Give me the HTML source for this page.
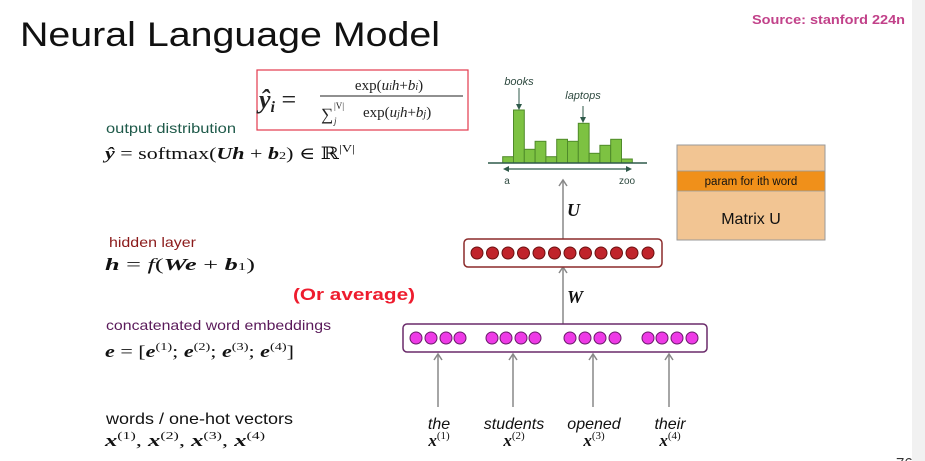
<!DOCTYPE html>
<html><head><meta charset="utf-8"><style>
html,body{margin:0;padding:0;background:#fff;}
svg{display:block}
.m{font-family:"Liberation Serif","DejaVu Serif",serif;}
.s{font-family:"Liberation Sans","DejaVu Sans",sans-serif;}
</style></head><body>
<svg width="925" height="461" viewBox="0 0 925 461" xmlns="http://www.w3.org/2000/svg">
<rect x="0" y="0" width="925" height="461" fill="#fff"/>
<rect x="912" y="0" width="13" height="461" fill="#f1f1f1"/>
<text x="20" y="46" class="s" font-size="34" fill="#111" textLength="420" lengthAdjust="spacingAndGlyphs">Neural Language Model</text>
<text x="752" y="24" class="s" font-size="13" font-weight="bold" fill="#c2428a" textLength="153" lengthAdjust="spacingAndGlyphs">Source: stanford 224n</text>
<text x="896" y="468" class="s" font-size="15" fill="#333">76</text>

<!-- formula box -->
<rect x="257" y="70" width="211" height="60" fill="#fff" stroke="#e23a4e" stroke-width="1.2"/>
<text x="259" y="108" class="m" font-size="26" font-style="italic" font-weight="bold" fill="#222">ŷ<tspan font-size="16" dy="4">i</tspan><tspan dy="-4" font-weight="normal" font-style="normal"> =</tspan></text>
<text x="389" y="90" class="m" font-size="15" text-anchor="middle" fill="#222">exp(<tspan font-style="italic">u<tspan font-size="10">i</tspan>h</tspan>+<tspan font-style="italic">b<tspan font-size="10">i</tspan></tspan>)</text>
<line x1="320" y1="96" x2="463" y2="96" stroke="#222" stroke-width="1"/>
<text x="321" y="120" class="m" font-size="17" fill="#222">∑</text>
<text x="334" y="109" class="m" font-size="9" fill="#222">|V|</text>
<text x="334" y="124" class="m" font-size="9" font-style="italic" fill="#222">j</text>
<text x="363" y="117" class="m" font-size="15" fill="#222">exp(<tspan font-style="italic">u<tspan font-size="10">j</tspan>h</tspan>+<tspan font-style="italic">b<tspan font-size="10">j</tspan></tspan>)</text>

<!-- left labels -->
<text x="106" y="133" class="s" font-size="14" fill="#1f5a4a" textLength="130" lengthAdjust="spacingAndGlyphs">output distribution</text>
<text x="105" y="159" class="m" font-size="17" fill="#111" textLength="250" lengthAdjust="spacingAndGlyphs"><tspan font-weight="bold" font-style="italic">ŷ</tspan> = softmax(<tspan font-weight="bold" font-style="italic">Uh</tspan> + <tspan font-weight="bold" font-style="italic">b</tspan><tspan font-size="11">2</tspan>) ∈ ℝ<tspan font-size="11" dy="-7">|V|</tspan></text>
<text x="109" y="247" class="s" font-size="14" fill="#8b1a1a" textLength="87" lengthAdjust="spacingAndGlyphs">hidden layer</text>
<text x="105" y="270" class="m" font-size="17" fill="#111" textLength="150" lengthAdjust="spacingAndGlyphs"><tspan font-weight="bold" font-style="italic">h</tspan> = <tspan font-style="italic">f</tspan>(<tspan font-weight="bold" font-style="italic">We</tspan> + <tspan font-weight="bold" font-style="italic">b</tspan><tspan font-size="11">1</tspan>)</text>
<text x="293" y="300" class="s" font-size="17" font-weight="bold" fill="#ee1c2e" textLength="122" lengthAdjust="spacingAndGlyphs">(Or average)</text>
<text x="106" y="330" class="s" font-size="14" fill="#5a1a5a" textLength="225" lengthAdjust="spacingAndGlyphs">concatenated word embeddings</text>
<text x="105" y="357" class="m" font-size="17" fill="#111" textLength="189" lengthAdjust="spacingAndGlyphs"><tspan font-weight="bold" font-style="italic">e</tspan> = [<tspan font-weight="bold" font-style="italic">e</tspan><tspan font-size="11" dy="-7">(1)</tspan><tspan dy="7">; </tspan><tspan font-weight="bold" font-style="italic">e</tspan><tspan font-size="11" dy="-7">(2)</tspan><tspan dy="7">; </tspan><tspan font-weight="bold" font-style="italic">e</tspan><tspan font-size="11" dy="-7">(3)</tspan><tspan dy="7">; </tspan><tspan font-weight="bold" font-style="italic">e</tspan><tspan font-size="11" dy="-7">(4)</tspan><tspan dy="7">]</tspan></text>
<text x="106" y="424" class="s" font-size="16" fill="#111" textLength="187" lengthAdjust="spacingAndGlyphs">words / one-hot vectors</text>
<text x="105" y="446" class="m" font-size="17" fill="#111" textLength="160" lengthAdjust="spacingAndGlyphs"><tspan font-weight="bold" font-style="italic">x</tspan><tspan font-size="11" dy="-7">(1)</tspan><tspan dy="7">, </tspan><tspan font-weight="bold" font-style="italic">x</tspan><tspan font-size="11" dy="-7">(2)</tspan><tspan dy="7">, </tspan><tspan font-weight="bold" font-style="italic">x</tspan><tspan font-size="11" dy="-7">(3)</tspan><tspan dy="7">, </tspan><tspan font-weight="bold" font-style="italic">x</tspan><tspan font-size="11" dy="-7">(4)</tspan></text>

<!-- histogram -->
<g fill="#7dc242" stroke="#4f8a2a" stroke-width="1">
<rect x="502.7" y="156.7" width="10.8" height="6.3"/>
<rect x="513.5" y="110" width="10.8" height="53"/>
<rect x="524.3" y="149.3" width="10.8" height="13.7"/>
<rect x="535.1" y="141.3" width="10.8" height="21.7"/>
<rect x="545.9" y="156.7" width="10.8" height="6.3"/>
<rect x="556.7" y="139.3" width="10.8" height="23.7"/>
<rect x="567.5" y="141.3" width="10.8" height="21.7"/>
<rect x="578.3" y="123.3" width="10.8" height="39.7"/>
<rect x="589.1" y="153.3" width="10.8" height="9.7"/>
<rect x="599.9" y="145.3" width="10.8" height="17.7"/>
<rect x="610.7" y="139.3" width="10.8" height="23.7"/>
<rect x="621.5" y="159" width="10.8" height="4"/>
</g>
<line x1="488" y1="163" x2="647" y2="163" stroke="#2f5a4a" stroke-width="1.5"/>
<line x1="505" y1="169" x2="630" y2="169" stroke="#2f5a4a" stroke-width="1.3"/>
<path d="M509,166 L503,169 L509,172Z M626,166 L632,169 L626,172Z" fill="#2f5a4a"/>
<text x="507" y="184" class="s" font-size="10" fill="#2f4a40" text-anchor="middle">a</text>
<text x="627" y="184" class="s" font-size="10" fill="#2f4a40" text-anchor="middle">zoo</text>
<text x="519" y="85" class="s" font-size="11" font-style="italic" fill="#2f4a40" text-anchor="middle">books</text>
<text x="583" y="99" class="s" font-size="11" font-style="italic" fill="#2f4a40" text-anchor="middle">laptops</text>
<line x1="519" y1="88" x2="519" y2="108" stroke="#2f5a4a"/>
<path d="M516,104 L519,110 L522,104Z" fill="#2f5a4a"/>
<line x1="583" y1="106" x2="583" y2="121" stroke="#2f5a4a"/>
<path d="M580,117 L583,123 L586,117Z" fill="#2f5a4a"/>

<!-- Matrix U -->
<rect x="677" y="145" width="148" height="95" fill="#f2c593" stroke="#999" stroke-width="1"/>
<rect x="677" y="171" width="148" height="20" fill="#f0901a" stroke="#999" stroke-width="0.8"/>
<text x="751" y="185" class="s" font-size="11.5" fill="#111" text-anchor="middle">param for ith word</text>
<text x="751" y="224" class="s" font-size="16" fill="#111" text-anchor="middle">Matrix U</text>

<!-- arrows -->
<g stroke="#888" stroke-width="1.5" fill="none">
<line x1="563" y1="239" x2="563" y2="181"/><path d="M559,186 L563,180 L567,186"/>
<line x1="563" y1="324" x2="563" y2="268"/><path d="M559,273 L563,267 L567,273"/>
<line x1="438" y1="407" x2="438" y2="355"/><path d="M434,360 L438,354 L442,360"/>
<line x1="513" y1="407" x2="513" y2="355"/><path d="M509,360 L513,354 L517,360"/>
<line x1="593" y1="407" x2="593" y2="355"/><path d="M589,360 L593,354 L597,360"/>
<line x1="669" y1="407" x2="669" y2="355"/><path d="M665,360 L669,354 L673,360"/>
</g>
<text x="567" y="216" class="m" font-size="18" font-weight="bold" font-style="italic" fill="#111">U</text>
<text x="567" y="303" class="m" font-size="18" font-weight="bold" font-style="italic" fill="#111">W</text>

<!-- hidden -->
<rect x="464" y="239" width="198" height="28" rx="4" fill="#fff" stroke="#8b2a2a" stroke-width="1.5"/>
<g fill="#c0242b" stroke="#6a1010" stroke-width="1">
<circle cx="477" cy="253" r="6"/><circle cx="492.5" cy="253" r="6"/><circle cx="508" cy="253" r="6"/><circle cx="523.5" cy="253" r="6"/><circle cx="539" cy="253" r="6"/><circle cx="554.5" cy="253" r="6"/><circle cx="570" cy="253" r="6"/><circle cx="585.5" cy="253" r="6"/><circle cx="601" cy="253" r="6"/><circle cx="616.5" cy="253" r="6"/><circle cx="632" cy="253" r="6"/><circle cx="648" cy="253" r="6"/>
</g>

<!-- embedding -->
<rect x="403" y="324" width="304" height="28" rx="4" fill="#fff" stroke="#6a2a6a" stroke-width="1.5"/>
<g fill="#ee3ae6" stroke="#6a1a6a" stroke-width="1">
<circle cx="416" cy="338" r="6"/><circle cx="431" cy="338" r="6"/><circle cx="446" cy="338" r="6"/><circle cx="460" cy="338" r="6"/>
<circle cx="492" cy="338" r="6"/><circle cx="506" cy="338" r="6"/><circle cx="521" cy="338" r="6"/><circle cx="535" cy="338" r="6"/>
<circle cx="570" cy="338" r="6"/><circle cx="585" cy="338" r="6"/><circle cx="600" cy="338" r="6"/><circle cx="615" cy="338" r="6"/>
<circle cx="648" cy="338" r="6"/><circle cx="662" cy="338" r="6"/><circle cx="677" cy="338" r="6"/><circle cx="692" cy="338" r="6"/>
</g>

<!-- words -->
<g class="s" font-size="16" font-style="italic" fill="#111" text-anchor="middle">
<text x="439" y="429">the</text><text x="514" y="429">students</text><text x="594" y="429">opened</text><text x="670" y="429">their</text>
</g>
<g class="m" font-size="17" fill="#111" text-anchor="middle">
<text x="439" y="446"><tspan font-weight="bold" font-style="italic">x</tspan><tspan font-size="11" dy="-7">(1)</tspan></text>
<text x="514" y="446"><tspan font-weight="bold" font-style="italic">x</tspan><tspan font-size="11" dy="-7">(2)</tspan></text>
<text x="594" y="446"><tspan font-weight="bold" font-style="italic">x</tspan><tspan font-size="11" dy="-7">(3)</tspan></text>
<text x="670" y="446"><tspan font-weight="bold" font-style="italic">x</tspan><tspan font-size="11" dy="-7">(4)</tspan></text>
</g>
</svg>
</body></html>
